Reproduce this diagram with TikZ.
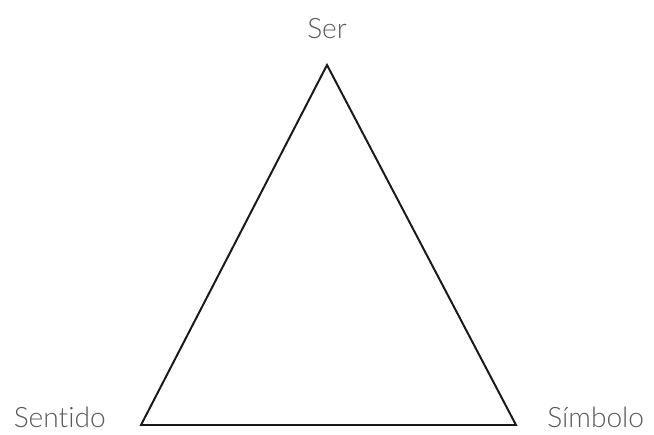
\documentclass[tikz,border=0pt]{standalone}
\usepackage{fontspec}
\setmainfont{Lato Light}[Ligatures=CommonOff]
\usepackage{tikz}

\definecolor{labelgray}{HTML}{5A5A5A}

\begin{document}
\begin{tikzpicture}[every node/.style={font=\fontsize{20}{24}\selectfont, text=labelgray, inner sep=0pt}]
	\useasboundingbox (0,0) rectangle (16.35,10.85);
	\coordinate (top) at (8.175,9.225);
	\coordinate (left) at (3.525,0.225);
	\coordinate (right) at (12.9,0.225);
	\draw[line width=1.4pt, line join=miter, black!90] (top) -- (left) -- (right) -- cycle;
	\node[anchor=base] (ser) at (8.175,9.875) {Ser};
	\node[anchor=base east] (sentido) at (2.65,0.17) {Sentido};
	\node[anchor=base west] (simbolo) at (13.675,0.17) {Símbolo};
\end{tikzpicture}
\end{document}
